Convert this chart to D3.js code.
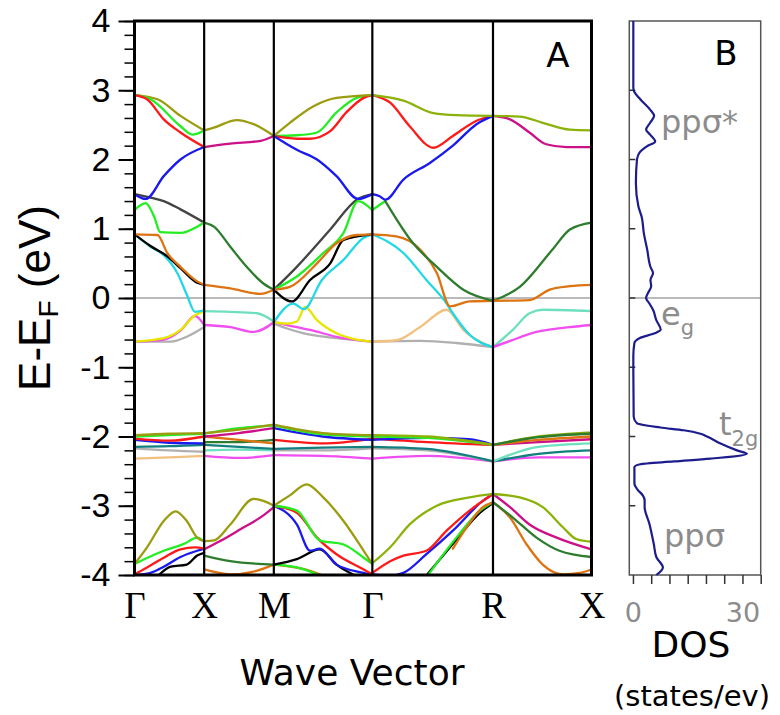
<!DOCTYPE html>
<html lang="en">
<head>
<meta charset="utf-8">
<title>Band structure and DOS</title>
<script src="https://cdn.jsdelivr.net/npm/d3@7"></script>
<style>
  body { margin: 0; background: #fff; }
  svg { display: block; }
</style>
</head>
<body>
<div id="viz"></div>
<script>

// path through the Brillouin zone (k in units of 2pi/a)
var kLabels = ['Γ', 'X', 'M', 'Γ', 'R', 'X'];
var kPoints = [0, 1, 2, 3.414, 5.146, 6.56];
var energyTicks = [4, 3, 2, 1, 0, -1, -2, -3, -4];
var dosTicks = [0, 5, 10, 15, 20, 25, 30, 35];

// bands, each one a [colour, [[k, E], ...]] piece between crossings
var upperBands = [
  ['olive', [[0,2.93],[0.33,2.87],[0.66,2.63],[1,2.42]]],
  ['green', [[0,2.93],[0.23,2.87],[0.66,2.48],[0.83,2.36],[1,2.42]]],
  ['red', [[0,2.93],[0.18,2.87],[0.42,2.58],[0.66,2.39],[1,2.18]]],
  ['blue', [[0,1.50],[0.16,1.43],[0.42,1.76],[0.66,2.0],[1,2.18]]],
  ['olive', [[1,2.42],[1.14,2.46],[1.47,2.57],[1.71,2.51],[2,2.34]]],
  ['magenta', [[1,2.18],[1.375,2.23],[1.81,2.27],[2,2.34]]],
  ['green', [[2,2.34],[2.33,2.35],[2.62,2.39],[2.90,2.68],[3.19,2.89],[3.414,2.93]]],
  ['red', [[2,2.34],[2.33,2.30],[2.52,2.30],[2.81,2.41],[3.04,2.68],[3.29,2.89],[3.414,2.93]]],
  ['olive', [[2,2.34],[2.23,2.53],[2.57,2.77],[2.90,2.89],[3.414,2.93]]],
  ['blue', [[2,2.34],[2.33,2.14],[2.62,2.0],[2.90,1.76],[3.21,1.43],[3.414,1.50]]],
  ['red', [[3.414,2.93],[3.67,2.82],[3.95,2.48],[4.29,2.17],[4.57,2.34],[4.91,2.56],[5.146,2.63]]],
  ['blue', [[3.414,1.50],[3.52,1.47],[3.60,1.42],[3.86,1.71],[4.24,1.95],[4.57,2.20],[4.91,2.51],[5.146,2.63]]],
  ['lime', [[3.414,2.93],[3.86,2.85],[4.29,2.67],[4.62,2.64],[5.146,2.63]]],
  ['magenta', [[5.146,2.63],[5.39,2.58],[5.67,2.39],[5.91,2.22],[6.2,2.18],[6.56,2.18]]],
  ['lime', [[5.146,2.63],[5.53,2.62],[5.86,2.53],[6.25,2.43],[6.56,2.42]]]
];

var fermiBands = [
  ['gray', [[0,-0.63],[0.52,-0.63],[0.75,-0.56],[1,-0.42]]],
  ['violet', [[0,-0.63],[0.42,-0.60],[0.66,-0.47],[0.87,-0.26],[1,-0.39]]],
  ['yellow', [[0,-0.63],[0.42,-0.58],[0.66,-0.46],[0.87,-0.25],[1,-0.19]]],
  ['darkgray', [[0,1.50],[0.23,1.45],[0.42,1.40],[0.66,1.28],[1,1.09]]],
  ['green', [[0,1.27],[0.16,1.37],[0.28,1.18],[0.37,0.95],[0.66,0.94],[0.90,1.03],[1,1.09]]],
  ['cyan', [[0,0.92],[0.23,0.74],[0.42,0.62],[0.62,0.35],[0.75,0.05],[0.87,-0.20],[1,-0.18]]],
  ['black', [[0,0.92],[0.23,0.75],[0.47,0.60],[0.66,0.43],[0.90,0.22],[1,0.19]]],
  ['orange', [[0,0.92],[0.33,0.91],[0.47,0.65],[0.66,0.45],[0.90,0.24],[1,0.19]]],
  ['darkgreen', [[1,1.09],[1.14,1.03],[1.375,0.74],[1.61,0.45],[1.85,0.21],[2,0.12]]],
  ['orange', [[1,0.19],[1.375,0.14],[1.81,0.06],[2,0.12]]],
  ['aqua', [[1,-0.19],[1.375,-0.20],[1.76,-0.22],[2,-0.34]]],
  ['violet', [[1,-0.39],[1.375,-0.42],[1.71,-0.49],[2,-0.35]]],
  ['gray', [[2,-0.37],[2.19,-0.44],[2.43,-0.51],[2.90,-0.58],[3.414,-0.63]]],
  ['violet', [[2,-0.35],[2.19,-0.39],[2.52,-0.46],[2.90,-0.56],[3.414,-0.63]]],
  ['yellow', [[2,-0.35],[2.19,-0.37],[2.33,-0.34],[2.45,-0.13],[2.62,-0.32],[2.90,-0.51],[3.19,-0.60],[3.414,-0.63]]],
  ['cyan', [[2,-0.35],[2.28,-0.08],[2.43,-0.16],[2.69,0.26],[3.0,0.55],[3.29,0.87],[3.414,0.92]]],
  ['darkgray', [[2,0.12],[2.33,0.45],[2.81,0.99],[3.19,1.42],[3.414,1.50]]],
  ['green', [[2,0.12],[2.33,0.31],[2.71,0.65],[3.0,0.94],[3.21,1.40],[3.414,1.27]]],
  ['black', [[2,0.12],[2.26,-0.05],[2.52,0.26],[2.81,0.50],[3.0,0.84],[3.414,0.92]]],
  ['orange', [[2,0.12],[2.23,0.16],[2.62,0.50],[2.90,0.79],[3.19,0.91],[3.414,0.92]]],
  ['gray', [[3.414,-0.63],[4.10,-0.62],[4.62,-0.65],[5.146,-0.71]]],
  ['peach', [[3.414,-0.63],[3.76,-0.61],[4.10,-0.42],[4.48,-0.17],[4.72,-0.46],[4.96,-0.63],[5.146,-0.71]]],
  ['cyan', [[3.414,0.92],[3.86,0.65],[4.19,0.26],[4.48,-0.08],[4.57,-0.22],[4.81,-0.53],[5.146,-0.71]]],
  ['orange', [[3.414,0.92],[3.76,0.89],[4.10,0.70],[4.34,0.36],[4.53,-0.12],[4.81,-0.05],[5.146,-0.04]]],
  ['green', [[3.414,1.27],[3.60,1.40]]],
  ['darkgreen', [[3.60,1.40],[4.0,0.79],[4.34,0.45],[4.72,0.12],[5.146,-0.04]]],
  ['darkgreen', [[5.146,-0.04],[5.53,0.16],[6.0,0.70],[6.25,0.99],[6.56,1.09]]],
  ['orange', [[5.146,-0.04],[5.67,-0.03],[5.96,0.12],[6.25,0.17],[6.56,0.19]]],
  ['aqua', [[5.146,-0.71],[5.43,-0.46],[5.67,-0.22],[5.86,-0.17],[6.56,-0.19]]],
  ['violet', [[5.146,-0.71],[5.39,-0.62],[5.77,-0.49],[6.25,-0.42],[6.56,-0.39]]]
];

var t2gBands = [
  ['gray', [[0,-2.17],[0.5,-2.20],[1,-2.22]]],
  ['peach', [[0,-2.32],[0.5,-2.30],[1,-2.28]]],
  ['teal', [[0,-2.15],[0.5,-2.14],[1,-2.12]]],
  ['blue', [[0,-2.05],[0.5,-2.09],[1,-2.10]]],
  ['red', [[0,-2.03],[0.5,-2.06],[1,-2.00]]],
  ['green', [[0,-2.00],[0.5,-1.98],[1,-1.96]]],
  ['olive', [[0,-1.98],[0.5,-1.96],[1,-1.95]]],
  ['violet', [[1,-2.28],[1.5,-2.31],[2,-2.27]]],
  ['aqua', [[1,-2.20],[1.5,-2.19],[2,-2.20]]],
  ['teal', [[1,-2.12],[1.5,-2.15],[2,-2.18]]],
  ['darkgreen', [[1,-2.08],[1.5,-2.08],[2,-2.05]]],
  ['orange', [[1,-2.00],[1.5,-2.05],[2,-2.10]]],
  ['magenta', [[1,-2.00],[1.5,-1.95],[2,-1.88]]],
  ['green', [[1,-1.96],[1.5,-1.88],[2,-1.84]]],
  ['olive', [[1,-1.95],[1.5,-1.90],[2,-1.83]]],
  ['violet', [[2,-2.27],[2.7,-2.28],[3.414,-2.32]]],
  ['gray', [[2,-2.20],[2.7,-2.20],[3.414,-2.17]]],
  ['teal', [[2,-2.18],[2.7,-2.16],[3.414,-2.15]]],
  ['red', [[2,-2.05],[2.7,-2.10],[3.414,-2.03]]],
  ['blue', [[2,-1.88],[2.7,-2.00],[3.414,-2.05]]],
  ['green', [[2,-1.84],[2.7,-1.97],[3.414,-2.00]]],
  ['olive', [[2,-1.83],[2.7,-1.95],[3.414,-1.98]]],
  ['violet', [[3.414,-2.32],[4.2,-2.28],[5.146,-2.36]]],
  ['gray', [[3.414,-2.17],[4.2,-2.20],[5.146,-2.36]]],
  ['teal', [[3.414,-2.15],[4.2,-2.18],[5.146,-2.36]]],
  ['red', [[3.414,-2.03],[4.2,-2.08],[5.146,-2.12]]],
  ['blue', [[3.414,-2.05],[4.2,-2.02],[4.8,-2.04],[5.146,-2.12]]],
  ['green', [[3.414,-2.00],[4.2,-2.02],[5.146,-2.12]]],
  ['lime', [[3.414,-1.98],[4.2,-2.00],[5.146,-2.12]]],
  ['violet', [[5.146,-2.36],[5.8,-2.30],[6.56,-2.30]]],
  ['teal', [[5.146,-2.36],[5.8,-2.25],[6.56,-2.20]]],
  ['aqua', [[5.146,-2.36],[5.8,-2.15],[6.56,-2.10]]],
  ['magenta', [[5.146,-2.12],[5.8,-2.08],[6.56,-2.04]]],
  ['orange', [[5.146,-2.12],[5.8,-2.05],[6.56,-2.00]]],
  ['lime', [[5.146,-2.12],[5.8,-2.00],[6.56,-1.94]]],
  ['darkgreen', [[5.146,-2.12],[5.8,-2.01],[6.56,-1.96]]]
];

var lowerBands = [
  ['black', [[0.33,-4.02],[0.52,-3.88],[0.75,-3.85],[0.90,-3.72],[1,-3.68]]],
  ['blue', [[0,-4.0],[0.23,-3.97],[0.42,-3.88],[0.66,-3.74],[0.90,-3.65],[1,-3.62]]],
  ['red', [[0,-3.99],[0.18,-3.89],[0.42,-3.75],[0.66,-3.63],[0.87,-3.60],[1,-3.62]]],
  ['green', [[0,-3.84],[0.42,-3.65],[0.71,-3.55],[0.90,-3.46],[1,-3.52]]],
  ['olive', [[0,-3.84],[0.18,-3.60],[0.42,-3.22],[0.59,-3.08],[0.75,-3.22],[0.90,-3.46],[1,-3.51]]],
  ['orange', [[1,-3.92],[1.375,-3.99],[1.71,-3.95],[2,-3.85]]],
  ['darkgreen', [[1,-3.72],[1.375,-3.80],[2,-3.85]]],
  ['magenta', [[1,-3.63],[1.23,-3.51],[1.52,-3.34],[1.85,-3.14],[2,-3.02]]],
  ['olive', [[1,-3.51],[1.14,-3.50],[1.375,-3.27],[1.71,-2.90],[1.85,-2.93],[2,-3.0]]],
  ['orange', [[2,-3.85],[2.45,-3.92],[2.66,-3.99],[2.8,-4.05]]],
  ['green', [[2,-3.85],[2.33,-3.89],[2.62,-3.99],[2.75,-4.05]]],
  ['black', [[2,-3.85],[2.33,-3.77],[2.66,-3.63],[2.90,-3.85],[3.19,-4.02]]],
  ['blue', [[2,-3.0],[2.33,-3.27],[2.52,-3.65],[2.66,-3.62],[2.90,-3.85],[3.29,-3.97],[3.414,-4.0]]],
  ['red', [[2,-3.0],[2.33,-3.10],[2.62,-3.46],[2.90,-3.70],[3.29,-3.92],[3.414,-3.99]]],
  ['green', [[2,-3.0],[2.33,-3.07],[2.66,-3.50],[3.0,-3.56],[3.29,-3.75],[3.414,-3.84]]],
  ['olive', [[2,-3.0],[2.23,-2.85],[2.47,-2.69],[2.71,-2.88],[3.0,-3.22],[3.29,-3.65],[3.414,-3.84]]],
  ['black', [[4.18,-4.02],[4.62,-3.49],[4.96,-3.10],[5.146,-2.96]]],
  ['green', [[4.2,-4.02],[4.62,-3.46],[4.96,-3.07],[5.146,-2.95]]],
  ['orange', [[4.57,-3.62],[4.81,-3.25],[5.0,-3.02],[5.146,-2.95]]],
  ['blue', [[3.414,-3.99],[3.67,-4.01],[3.86,-3.97],[4.19,-3.70],[4.57,-3.36],[5.0,-2.93],[5.146,-2.83]]],
  ['red', [[3.414,-3.97],[3.67,-3.80],[3.86,-3.72],[4.19,-3.65],[4.48,-3.36],[4.81,-3.07],[5.146,-2.83]]],
  ['lime', [[3.414,-3.83],[3.67,-3.60],[3.95,-3.27],[4.34,-3.0],[4.81,-2.88],[5.146,-2.83]]],
  ['orange', [[5.146,-2.95],[5.39,-3.17],[5.63,-3.56],[5.86,-3.85],[6.15,-3.99],[6.39,-3.97],[6.56,-3.92]]],
  ['darkgreen', [[5.146,-2.95],[5.43,-3.17],[5.77,-3.46],[6.10,-3.65],[6.56,-3.74]]],
  ['magenta', [[5.146,-2.83],[5.39,-3.02],[5.67,-3.27],[6.06,-3.46],[6.56,-3.63]]],
  ['lime', [[5.146,-2.83],[5.53,-2.88],[5.86,-3.02],[6.15,-3.31],[6.34,-3.48],[6.56,-3.52]]]
];

// total DOS, read top to bottom
var dosEnergy = [4.0, 3.5, 3.05, 3.0, 2.87, 2.72, 2.63, 2.53, 2.43, 2.36, 2.26, 2.19, 2.10, 2.0,
  1.66, 1.32, 1.17, 0.93, 0.70, 0.45, 0.36, 0.26, 0.17, 0.07, 0.0, -0.08, -0.17, -0.32, -0.46,
  -0.51, -0.58, -0.65, -0.84, -1.71, -1.81, -1.87, -1.91, -1.96, -2.0, -2.1, -2.2, -2.25, -2.32,
  -2.36, -2.40, -2.44, -2.68, -2.77, -2.85, -2.92, -3.02, -3.26, -3.55, -3.74, -3.89, -4.0];
var dosStates = [0.1, 0.1, 0.1, 0.2, 2.0, 4.7, 5.8, 4.7, 3.6, 4.7, 6.1, 3.8, 1.8, 1.1,
  0.8, 1.5, 2.4, 3.0, 3.9, 4.8, 5.5, 4.8, 5.0, 4.1, 3.6, 4.5, 5.5, 6.4, 7.6,
  5.9, 1.8, 0.4, 0.1, 0.2, 1.1, 7.5, 13.9, 18.5, 20.3, 24, 28.5, 31.2, 21.2,
  11.2, 2.0, 0.4, 0.4, 1.3, 2.7, 3.2, 3.2, 4.5, 5.7, 6.4, 8.2, 6.4];

var colors = {
  olive: '#9c9c10', lime: '#8cb20a', green: '#22ee22', red: '#ff1a1a', blue: '#1a1aee',
  magenta: '#cc1188', darkgray: '#444444', darkgreen: '#2e7d2e', orange: '#dd7311',
  black: '#000000', cyan: '#22d8e6', aqua: '#6fe0bf', violet: '#f04ef0', yellow: '#e6e600',
  gray: '#b0b0b0', peach: '#f2c080', teal: '#138080'
};

var W = 780, H = 715;
var svg = d3.select('#viz').append('svg')
    .attr('width', W)
    .attr('height', H);

var y = d3.scaleLinear().domain([-4, 4]).range([575, 21]);
var x = d3.scaleLinear().domain([0, 6.56]).range([134.5, 591.5]);
var xd = d3.scaleLinear().domain([-1, 35]).range([629.3, 760.7]);

svg.append('clipPath').attr('id', 'clipA')
  .append('rect')
    .attr('x', x(0)).attr('y', y(4))
    .attr('width', x(6.56) - x(0)).attr('height', y(-4) - y(4));

// ---- panel A ----
svg.append('line')
    .attr('x1', x(0)).attr('x2', x(6.56))
    .attr('y1', y(0)).attr('y2', y(0))
    .attr('stroke', '#777').attr('stroke-width', 1.2);

var bandLine = d3.line()
    .x(function(d) { return x(d[0]); })
    .y(function(d) { return y(d[1]); })
    .curve(d3.curveMonotoneX);

var bandG = svg.append('g').attr('clip-path', 'url(#clipA)');
[lowerBands, t2gBands, fermiBands, upperBands].forEach(function(group) {
  bandG.append('g')
    .selectAll('path')
    .data(group)
    .enter()
    .append('path')
      .attr('d', function(d) { return bandLine(d[1]); })
      .attr('fill', 'none')
      .attr('stroke', function(d) { return colors[d[0]]; })
      .attr('stroke-width', 2.3)
      .attr('stroke-linecap', 'round');
});

// vertical lines at the inner symmetry points
svg.append('g')
  .selectAll('line')
  .data(kPoints.slice(1, -1))
  .enter()
  .append('line')
    .attr('x1', function(d) { return x(d); })
    .attr('x2', function(d) { return x(d); })
    .attr('y1', y(4)).attr('y2', y(-4))
    .attr('stroke', '#000').attr('stroke-width', 2.2);

svg.append('rect')
    .attr('x', x(0)).attr('y', y(4))
    .attr('width', x(6.56) - x(0)).attr('height', y(-4) - y(4))
    .attr('fill', 'none').attr('stroke', '#000').attr('stroke-width', 3);

// y axis with minor ticks every 0.2 eV
var minor = d3.range(-4, 4.01, 0.2);
svg.append('g')
    .attr('transform', 'translate(' + x(0) + ',0)')
    .call(d3.axisLeft(y).tickValues(minor).tickSize(10).tickFormat(''))
    .call(function(g) {
      g.select('.domain').remove();
      g.selectAll('line').attr('stroke', '#000').attr('stroke-width', 1.5);
    });

svg.append('g')
    .attr('transform', 'translate(' + x(0) + ',0)')
    .call(d3.axisLeft(y).tickValues(energyTicks).tickSize(16).tickPadding(8)
      .tickFormat(function(d) { return String(d); }))
    .call(function(g) {
      g.select('.domain').remove();
      g.selectAll('line').attr('stroke', '#000').attr('stroke-width', 2);
      g.selectAll('text')
        .attr('fill', '#000')
        .style('font-family', '"Liberation Sans", Arial, sans-serif')
        .style('font-size', '34px');
    });

// k-point labels
svg.append('g')
    .attr('transform', 'translate(0,' + y(-4) + ')')
    .call(d3.axisBottom(x).tickValues(kPoints).tickSize(0).tickFormat(function(d, i) { return kLabels[i]; }))
    .call(function(g) {
      g.select('.domain').remove();
      g.selectAll('text')
        .attr('dy', null)
        .attr('y', 43)
        .attr('fill', '#000')
        .style('font-family', '"Liberation Serif", "Times New Roman", serif')
        .style('font-size', '37px');
    });

svg.append('text')
    .attr('x', 352).attr('y', 685)
    .attr('text-anchor', 'middle')
    .style('font-family', '"DejaVu Sans", Verdana, sans-serif')
    .style('font-size', '36px')
    .text('Wave Vector');

var yTitle = svg.append('text')
    .attr('transform', 'translate(50,298) rotate(-90)')
    .attr('text-anchor', 'middle')
    .style('font-family', '"Liberation Sans", Arial, sans-serif')
    .style('font-size', '44px');
yTitle.append('tspan').text('E-E');
yTitle.append('tspan').attr('dy', 8).style('font-size', '28px').text('F');
yTitle.append('tspan').attr('dy', -8).text(' (eV)');

svg.append('text')
    .attr('x', 558).attr('y', 67)
    .attr('text-anchor', 'middle')
    .style('font-family', '"DejaVu Sans", Verdana, sans-serif')
    .style('font-size', '34px')
    .text('A');

// ---- panel B: DOS ----
svg.append('line')
    .attr('x1', xd(-1)).attr('x2', xd(35))
    .attr('y1', y(0)).attr('y2', y(0))
    .attr('stroke', '#777').attr('stroke-width', 1.2);

svg.append('rect')
    .attr('x', xd(-1)).attr('y', y(4))
    .attr('width', xd(35) - xd(-1)).attr('height', y(-4) - y(4))
    .attr('fill', 'none').attr('stroke', '#555').attr('stroke-width', 1.5);

svg.append('g')
  .selectAll('line')
  .data(energyTicks.slice(1, -1))
  .enter()
  .append('line')
    .attr('x1', xd(-1)).attr('x2', xd(-1) + 6)
    .attr('y1', function(d) { return y(d); })
    .attr('y2', function(d) { return y(d); })
    .attr('stroke', '#333').attr('stroke-width', 1.5);

svg.append('g')
    .attr('transform', 'translate(0,' + y(-4) + ')')
    .call(d3.axisBottom(xd).tickValues(dosTicks).tickSize(9).tickFormat(function(d) {
      return (d === 0 || d === 30) ? d : '';
    }))
    .call(function(g) {
      g.select('.domain').remove();
      g.selectAll('line').attr('stroke', '#333').attr('stroke-width', 1.5);
      g.selectAll('text')
        .attr('dy', null)
        .attr('y', 47)
        .attr('fill', '#8c8c8c')
        .style('font-family', '"DejaVu Sans", Verdana, sans-serif')
        .style('font-size', '27px');
    });

var dosLine = d3.line()
    .x(function(d, i) { return xd(dosStates[i]); })
    .y(function(d) { return y(d); })
    .curve(d3.curveMonotoneY);

svg.append('path')
    .attr('d', dosLine(dosEnergy))
    .attr('fill', 'none')
    .attr('stroke', '#1c1c8c')
    .attr('stroke-width', 2.2);

svg.append('text')
    .attr('x', 726).attr('y', 65)
    .attr('text-anchor', 'middle')
    .style('font-family', '"DejaVu Sans", Verdana, sans-serif')
    .style('font-size', '34px')
    .text('B');

var grayFont = function(sel, size) {
  return sel.attr('fill', '#8c8c8c')
    .style('font-family', '"DejaVu Sans", Verdana, sans-serif')
    .style('font-size', size + 'px');
};

grayFont(svg.append('text').attr('x', 661).attr('y', 133), 32).text('ppσ*');
var eg = grayFont(svg.append('text').attr('x', 661).attr('y', 325), 32);
eg.append('tspan').text('e');
eg.append('tspan').attr('dy', 10).style('font-size', '21px').text('g');
var t2g = grayFont(svg.append('text').attr('x', 719).attr('y', 435), 32);
t2g.append('tspan').text('t');
t2g.append('tspan').attr('dy', 11).style('font-size', '21px').text('2g');
grayFont(svg.append('text').attr('x', 664).attr('y', 547), 32).text('ppσ');

svg.append('text')
    .attr('x', 691).attr('y', 657)
    .attr('text-anchor', 'middle')
    .style('font-family', '"DejaVu Sans", Verdana, sans-serif')
    .style('font-size', '36px')
    .text('DOS');

svg.append('text')
    .attr('x', 692).attr('y', 706)
    .attr('text-anchor', 'middle')
    .style('font-family', '"DejaVu Sans", Verdana, sans-serif')
    .style('font-size', '29px')
    .text('(states/ev)');

</script>
</body>
</html>
